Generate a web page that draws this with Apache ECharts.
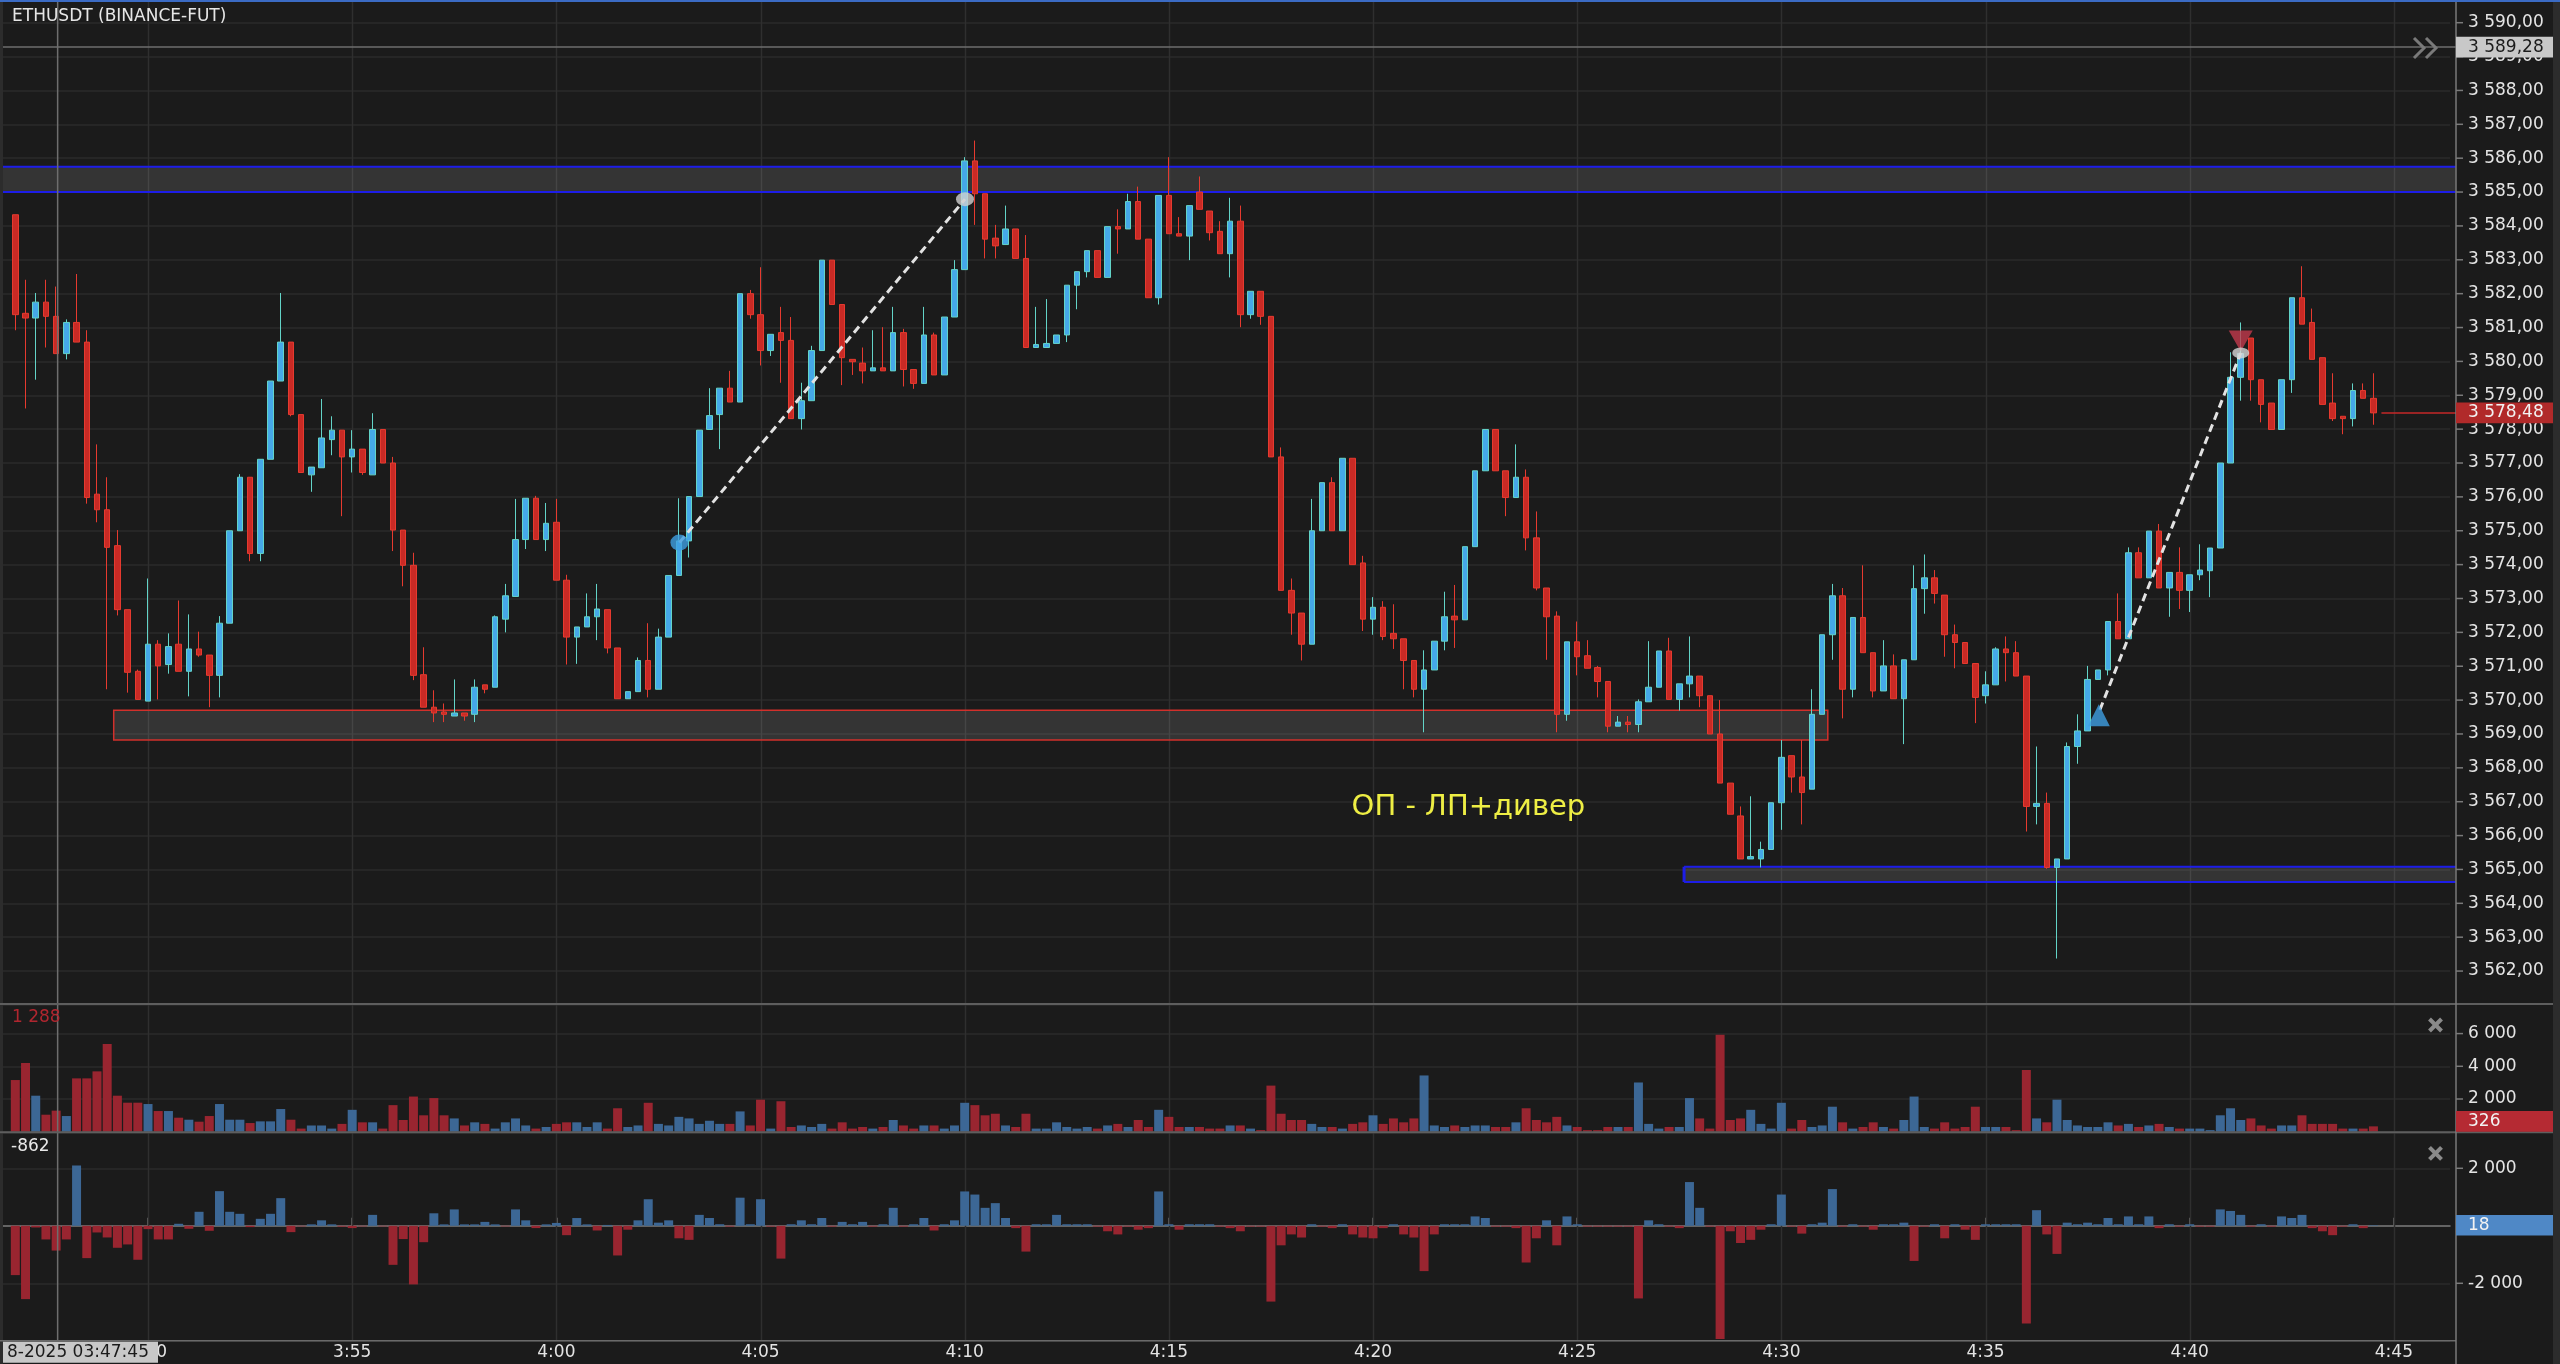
<!DOCTYPE html>
<html>
<head>
<meta charset="utf-8">
<title>ETHUSDT (BINANCE-FUT)</title>
<script src="https://cdn.jsdelivr.net/npm/echarts@6.0.0/dist/echarts.min.js"></script>
<style>
html,body{margin:0;padding:0;background:#1b1b1b;overflow:hidden;}
#chart{width:2560px;height:1364px;}
</style>
</head>
<body>
<div id="chart"></div>
<script>
// ---------------- DATA (15-second candles, first candle 3:46:45) ----------------
const opens = [
3584.33,3581.42,3581.28,3581.75,3581.33,3580.23,3581.15,3580.57,3576.08,3575.62,
3574.56,3572.67,3570.85,3569.97,3571.65,3571.05,3571.65,3570.85,3571.51,3571.33,
3570.73,3572.27,3575.00,3576.58,3574.33,3577.11,3579.42,3580.57,3578.43,3576.65,
3576.86,3577.69,3577.97,3577.18,3577.41,3576.65,3577.99,3577.00,3575.02,3573.98,
3570.75,3569.79,3569.65,3569.53,3569.62,3569.58,3570.45,3570.38,3572.39,3573.06,
3574.74,3575.96,3574.74,3575.25,3573.54,3571.86,3572.16,3572.46,3572.67,3571.54,
3570.04,3570.25,3571.17,3570.32,3571.86,3573.68,3574.70,3576.01,3577.99,3578.43,
3579.21,3578.80,3582.00,3581.38,3580.32,3580.85,3580.62,3578.31,3578.84,3580.32,
3582.99,3581.68,3580.06,3579.95,3579.72,3579.81,3579.72,3580.85,3579.76,3579.35,
3580.78,3579.60,3581.31,3582.71,3585.92,3584.95,3583.64,3583.45,3583.91,3583.04,
3580.41,3580.41,3580.53,3580.78,3582.25,3582.65,3583.27,3582.48,3583.98,3583.91,
3584.72,3583.61,3581.88,3584.90,3583.77,3583.70,3585.00,3584.44,3583.84,3583.18,
3584.14,3581.38,3582.07,3581.33,3577.18,3573.24,3572.57,3571.65,3575.00,3576.42,
3575.00,3577.14,3574.05,3572.39,3572.74,3571.97,3571.81,3571.17,3570.32,3570.89,
3571.74,3572.48,3572.37,3574.53,3576.77,3577.99,3576.77,3575.98,3576.58,3574.79,
3573.31,3572.48,3569.58,3571.72,3571.31,3570.96,3570.55,3569.23,3569.35,3569.28,
3569.95,3570.38,3571.45,3570.02,3570.48,3570.71,3570.13,3569.00,3567.55,3566.58,
3565.31,3565.31,3565.59,3566.97,3568.36,3567.73,3567.37,3569.58,3571.93,3573.08,
3570.32,3572.44,3571.40,3570.27,3571.01,3570.04,3571.19,3573.29,3573.61,3573.10,
3571.93,3571.70,3571.08,3570.13,3570.45,3571.51,3571.40,3570.71,3566.86,3566.95,
3565.06,3565.31,3568.63,3569.09,3570.61,3570.89,3572.32,3571.81,3574.35,3573.61,
3574.99,3573.31,3573.77,3573.24,3573.70,3573.82,3574.49,3577.00,3579.53,3580.69,
3579.46,3578.77,3577.99,3579.46,3581.88,3581.15,3580.11,3578.77,3578.38,3578.31,
3579.14,3578.91];
const closes = [
3581.38,3581.28,3581.75,3581.33,3580.23,3581.15,3580.57,3575.98,3575.62,3574.51,
3572.67,3570.82,3570.02,3571.65,3571.01,3571.58,3570.85,3571.51,3571.33,3570.73,
3572.27,3575.00,3576.58,3574.33,3577.11,3579.42,3580.57,3578.43,3576.72,3576.88,
3577.74,3577.97,3577.18,3577.41,3576.72,3577.99,3577.00,3575.02,3573.98,3570.73,
3569.79,3569.62,3569.58,3569.62,3569.53,3570.38,3570.32,3572.46,3573.08,3574.74,
3575.96,3574.74,3575.22,3573.54,3571.86,3572.16,3572.46,3572.69,3571.54,3570.04,
3570.25,3571.17,3570.32,3571.86,3573.68,3574.70,3576.01,3577.97,3578.40,3579.21,
3578.80,3582.00,3581.38,3580.32,3580.80,3580.62,3578.31,3578.84,3580.32,3582.99,
3581.68,3580.11,3579.99,3579.72,3579.81,3579.72,3580.85,3579.76,3579.35,3580.78,
3579.60,3581.31,3582.71,3585.92,3584.95,3583.61,3583.41,3583.91,3583.04,3580.41,
3580.50,3580.53,3580.78,3582.25,3582.65,3583.27,3582.48,3583.98,3583.91,3584.72,
3583.61,3581.88,3584.90,3583.77,3583.70,3584.60,3584.49,3583.80,3583.18,3584.14,
3581.38,3582.07,3581.33,3577.18,3573.24,3572.57,3571.65,3575.00,3576.42,3575.00,
3577.14,3574.00,3572.39,3572.74,3571.88,3571.81,3571.17,3570.32,3570.89,3571.74,
3572.46,3572.37,3574.53,3576.77,3577.99,3576.77,3575.98,3576.58,3574.79,3573.31,
3572.46,3569.58,3571.72,3571.28,3570.94,3570.55,3569.23,3569.35,3569.28,3569.95,
3570.38,3571.45,3570.02,3570.48,3570.71,3570.13,3569.00,3567.55,3566.63,3565.31,
3565.38,3565.59,3566.97,3568.31,3567.73,3567.27,3569.58,3571.93,3573.08,3570.32,
3572.44,3571.40,3570.27,3571.01,3570.04,3571.19,3573.29,3573.61,3573.15,3571.93,
3571.70,3571.08,3570.08,3570.45,3571.51,3571.40,3570.71,3566.86,3566.95,3565.06,
3565.31,3568.63,3569.09,3570.61,3570.89,3572.32,3571.81,3574.35,3573.61,3574.99,
3573.31,3573.77,3573.24,3573.70,3573.84,3574.49,3577.00,3579.53,3580.23,3579.46,
3578.73,3577.99,3579.46,3581.88,3581.10,3580.06,3578.73,3578.31,3578.31,3579.14,
3578.91,3578.48];
const lows = [
3580.92,3578.61,3579.46,3580.41,3580.23,3580.06,3580.57,3575.80,3575.25,3570.32,
3572.50,3570.22,3570.02,3569.97,3570.02,3570.78,3570.85,3570.11,3571.28,3569.79,
3570.08,3572.27,3575.00,3574.10,3574.10,3577.11,3579.42,3578.38,3576.72,3576.15,
3576.86,3577.23,3575.43,3576.72,3576.65,3576.65,3577.00,3574.40,3573.36,3570.59,
3569.79,3569.35,3569.35,3569.53,3569.39,3569.35,3570.20,3570.38,3572.00,3573.06,
3574.46,3574.74,3574.40,3573.54,3571.05,3571.07,3572.16,3571.77,3571.38,3570.04,
3570.04,3570.25,3570.08,3570.32,3571.86,3573.68,3574.21,3576.01,3577.99,3577.41,
3578.80,3578.80,3581.26,3579.88,3580.16,3579.37,3578.31,3577.99,3578.84,3580.32,
3581.68,3579.30,3579.60,3579.35,3579.72,3579.72,3579.72,3579.26,3579.19,3579.35,
3579.60,3579.60,3581.31,3582.71,3584.03,3583.04,3583.04,3583.45,3583.04,3580.41,
3580.41,3580.41,3580.53,3580.57,3581.54,3582.48,3582.48,3582.48,3583.18,3583.91,
3583.61,3581.88,3581.68,3583.77,3583.70,3582.99,3584.49,3583.57,3583.18,3582.48,
3581.01,3581.26,3581.08,3577.18,3573.24,3571.93,3571.17,3571.65,3575.00,3575.00,
3575.00,3574.00,3572.04,3571.93,3571.77,3571.51,3570.32,3570.08,3569.05,3570.89,
3571.47,3571.54,3572.37,3574.53,3576.77,3576.77,3575.43,3575.98,3574.42,3573.24,
3571.19,3569.05,3569.39,3570.73,3570.94,3570.08,3569.05,3569.23,3569.05,3569.05,
3569.95,3570.38,3570.02,3569.69,3570.08,3569.79,3569.00,3567.55,3566.63,3565.31,
3565.31,3565.06,3565.59,3566.17,3567.27,3566.33,3567.37,3569.58,3571.19,3569.46,
3570.08,3571.40,3570.08,3570.27,3570.04,3568.70,3571.19,3572.55,3572.85,3571.28,
3570.94,3571.08,3569.32,3569.90,3570.45,3570.55,3570.71,3566.12,3566.33,3565.02,
3562.37,3565.31,3568.12,3569.09,3570.61,3570.73,3571.81,3571.81,3573.61,3573.61,
3573.31,3572.46,3572.69,3572.60,3573.54,3573.04,3574.49,3577.00,3578.84,3578.84,
3578.20,3577.99,3577.99,3579.07,3581.10,3580.06,3578.73,3578.24,3577.85,3578.08,
3578.91,3578.13];
const highs = [
3584.33,3582.41,3582.02,3582.41,3582.21,3581.24,3582.58,3580.92,3577.55,3576.58,
3575.02,3572.67,3570.90,3573.59,3571.77,3571.97,3572.94,3572.53,3572.02,3571.33,
3572.48,3575.00,3576.67,3576.58,3577.11,3579.42,3582.02,3580.57,3578.43,3576.88,
3578.89,3578.38,3577.97,3577.97,3577.41,3578.47,3577.99,3577.18,3575.02,3574.35,
3571.56,3570.29,3569.90,3570.61,3569.62,3570.61,3570.45,3572.50,3573.43,3575.94,
3575.96,3576.03,3575.82,3575.94,3573.70,3572.16,3573.15,3573.43,3572.67,3571.54,
3570.25,3571.26,3572.27,3572.11,3573.68,3575.96,3576.01,3577.97,3579.21,3579.21,
3579.72,3582.00,3582.11,3582.78,3580.80,3581.61,3581.31,3579.37,3580.46,3582.99,
3582.99,3581.68,3580.06,3580.41,3580.92,3581.01,3581.61,3580.96,3579.76,3581.61,
3580.85,3581.31,3582.99,3586.03,3586.52,3584.95,3584.03,3584.60,3583.91,3583.73,
3581.61,3581.84,3580.78,3582.25,3582.65,3583.27,3583.27,3583.98,3584.49,3584.95,
3585.16,3583.61,3584.90,3586.03,3584.26,3584.60,3585.46,3584.44,3584.14,3584.83,
3584.60,3582.07,3582.07,3581.33,3577.46,3573.59,3572.57,3575.94,3576.42,3576.58,
3577.14,3577.14,3574.26,3573.04,3572.92,3572.83,3571.81,3571.17,3571.47,3571.74,
3573.20,3573.40,3574.53,3576.77,3577.99,3577.99,3576.77,3577.55,3576.81,3575.57,
3573.31,3572.62,3571.72,3572.32,3571.77,3571.01,3570.55,3569.53,3569.53,3570.02,
3571.74,3571.45,3571.84,3570.48,3571.88,3570.71,3570.13,3570.00,3567.55,3566.86,
3567.16,3565.82,3566.97,3568.82,3568.36,3568.82,3570.32,3571.93,3573.43,3573.31,
3572.44,3573.98,3571.40,3571.77,3571.35,3571.19,3573.98,3574.30,3573.84,3573.10,
3572.23,3571.70,3571.08,3570.85,3571.56,3571.88,3571.74,3570.71,3568.63,3567.27,
3565.31,3568.75,3569.58,3571.01,3570.89,3572.32,3573.15,3574.51,3574.51,3574.99,
3575.20,3573.77,3574.51,3573.70,3574.60,3574.49,3577.00,3580.27,3581.15,3580.69,
3579.46,3578.77,3579.46,3581.88,3582.81,3581.56,3580.11,3579.65,3578.38,3579.35,
3579.35,3579.65];
const volumes = [
3160,4200,2202,1040,1288,958,3262,3262,3690,5363,
2202,1774,1774,1692,1264,1264,856,734,612,958,
1692,734,734,530,632,632,1386,734,190,380,
380,190,478,1338,573,573,190,1625,717,2150,
1003,2055,1003,812,382,573,478,190,573,812,
382,190,287,478,573,573,287,573,190,1433,
287,382,1768,478,382,908,812,478,669,478,
478,1242,382,1959,190,1863,287,382,287,478,
190,573,190,287,190,287,717,382,190,382,
382,190,382,1768,1625,1003,1099,382,287,1099,
190,190,573,287,190,287,190,382,478,287,
717,287,1338,908,287,287,287,190,190,382,
382,190,96,2819,1099,717,717,478,287,287,
190,478,573,1003,478,812,573,812,3440,382,
287,382,287,382,382,287,287,573,1433,717,
573,908,382,287,96,96,287,287,287,3010,
478,190,287,287,2055,812,190,5925,717,812,
1338,478,190,1768,190,717,287,382,1529,573,
190,287,573,287,190,717,2150,287,190,573,
190,287,1529,287,287,287,96,3775,812,573,
1959,717,382,287,287,573,382,478,287,382,
478,287,190,190,190,96,1003,1433,717,812,
382,190,382,382,1003,478,478,478,190,190,
190,326];
const deltas = [
-1715,-2550,-58,-475,-862,-475,2098,-1124,-232,-406,
-765,-649,-1182,-116,-475,-475,70,-104,487,-174,
1205,487,417,-46,243,417,962,-220,-20,50,
190,50,-30,-80,-20,380,-20,-1358,-462,-2038,
-570,435,50,570,50,50,136,50,-20,570,
190,-80,50,100,-326,270,50,-163,30,-1032,
-136,190,924,109,190,-435,-489,380,272,54,
-27,978,54,924,-27,-1141,54,190,54,272,
-27,136,54,136,-27,54,625,-27,54,272,
-163,54,190,1195,1087,625,788,272,-82,-897,
54,54,380,54,54,54,-27,-190,-300,-27,
-136,-82,1195,54,-136,54,54,54,-27,-82,
-190,-27,-27,-2636,-679,-300,-408,54,-27,-82,
54,-300,-408,-435,-82,54,-300,-408,-1576,-300,
54,54,54,326,272,-27,-27,-82,-1277,-435,
190,-679,326,54,-27,-27,-27,-27,-27,-2527,
190,54,-27,-82,1521,625,-27,-3940,-190,-598,
-489,-136,54,1087,-27,-272,54,109,1277,-27,
54,-27,-136,54,54,109,-1223,-27,54,-435,
54,-136,-489,54,54,54,54,-3396,543,-300,
-978,109,54,109,54,272,54,326,54,326,
-82,54,-27,54,-27,-27,570,516,380,-27,
54,-27,326,272,380,-82,-190,-326,-27,54,
-82,18];
const tickLabels = ['3:50','3:55','4:00','4:05','4:10','4:15','4:20','4:25','4:30','4:35','4:40','4:45'];

// levels / annotations in (candle index, price) units
const zones = [
  [-0.5, 240.07, 3585.00, 3585.75],
  [10.64, 178.55, 3568.82, 3569.70],
  [164.47, 240.07, 3564.63, 3565.08]
];
const zoneKinds = ['blue', 'red', 'blue'];
const trendA = [[66.05, 3574.65], [94.03, 3584.79]];
const trendB = [[205.2, 3569.71], [219.0, 3580.25]];
const noteText = 'ОП - ЛП+дивер';
const notePos = [131.9, 3566.84];
const lastPrice = 3578.48;
const cursorPrice = 3589.28;
const cursorIndex = 5;
const cursorTime = '8-2025 03:47:45';
const cursorVolume = 1288;
const cursorDelta = -862;
const lastVolume = 326;
const lastDelta = 18;

// ---------------- STYLE ----------------
const FONT = 'DejaVu Sans';
const BG = '#1b1b1b', GRIDC = '#2b2b2b', AXIS = '#7a7a7a', TXT = '#e4e4e4';
const UP_FILL = '#45a8e8', UP_LINE = '#63d4c8', DN_FILL = '#c92a25', DN_LINE = '#e63a2f';
const BAR_RED = '#992530', BAR_BLUE = '#3c6795';

function fmtNum(v, dec) {
  const s = Math.abs(v).toFixed(dec);
  const parts = s.split('.');
  const ip = parts[0].replace(/\B(?=(\d{3})+(?!\d))/g, ' ');
  return (v < 0 ? '-' : '') + ip + (parts[1] ? ',' + parts[1] : '');
}

const startSec = 3 * 3600 + 46 * 60 + 30;
const N = 240;
const FIRST = 1;
const categories = [];
for (let i = 0; i < N; i++) {
  const s = startSec + 15 * i;
  const h = Math.floor(s / 3600), m = Math.floor((s % 3600) / 60), sec = s % 60;
  categories.push(h + ':' + String(m).padStart(2, '0') + ':' + String(sec).padStart(2, '0'));
}
function isTick(i) {
  const lab = categories[i] ? categories[i].slice(0, -3) : '';
  return !!categories[i] && categories[i].endsWith(':00') && tickLabels.indexOf(lab) >= 0;
}

const candleData = [], volData = [], deltaData = [];
for (let i = 0; i < N; i++) {
  const k = i - FIRST;
  if (k >= 0 && k < opens.length) {
    candleData.push([opens[k], closes[k], lows[k], highs[k]]);
    const up = closes[k] >= opens[k];
    volData.push({ value: volumes[k], itemStyle: { color: up ? BAR_BLUE : BAR_RED } });
    deltaData.push({ value: deltas[k], itemStyle: { color: deltas[k] >= 0 ? BAR_BLUE : BAR_RED } });
  } else {
    candleData.push(['-', '-', '-', '-']);
    volData.push('-');
    deltaData.push('-');
  }
}

const chart = echarts.init(document.getElementById('chart'), null, { renderer: 'canvas', width: 2560, height: 1364 });

const hiddenCat = (g) => ({
  type: 'category', gridIndex: g, data: categories, boundaryGap: true,
  axisLine: { show: false }, axisTick: { show: false }, axisLabel: { show: false }, splitLine: { show: false }
});
const rightAxis = (g, extra) => Object.assign({
  type: 'value', gridIndex: g, position: 'right', offset: 6,
  axisLine: { show: false },
  axisTick: { show: false },
  minorTick: { show: false },
  splitLine: { show: true, lineStyle: { color: GRIDC, width: 1.5 } }
}, extra);

const option = {
  backgroundColor: BG,
  animation: false,
  textStyle: { fontFamily: FONT },
  grid: [
    { left: 0, right: 110, top: -11.17, height: 1016.1, containLabel: false, outerBoundsMode: 'none' },
    { left: 0, right: 110, top: 1004, height: 127.7, containLabel: false, outerBoundsMode: 'none' },
    { left: 0, right: 110, top: 1132.3, height: 208.5, containLabel: false, outerBoundsMode: 'none' }
  ],
  xAxis: [
    hiddenCat(0),
    hiddenCat(1),
    {
      type: 'category', gridIndex: 2, data: categories, boundaryGap: true,
      axisLine: { show: true, lineStyle: { color: AXIS, width: 1.5 } },
      axisTick: { show: true, inside: true, length: 8, alignWithLabel: true, interval: (i) => isTick(i), lineStyle: { color: AXIS, width: 1.5 } },
      axisLabel: { show: true, interval: (i) => isTick(i), formatter: (v) => v.slice(0, -3), color: TXT, fontSize: 17, fontFamily: FONT, margin: 3, hideOverlap: false },
      splitLine: { show: false }
    },
    { type: 'value', gridIndex: 0, min: -0.5, max: N - 0.5, show: false }
  ],
  yAxis: [
    rightAxis(0, {
      min: 3561, max: 3591, interval: 1,
      axisLabel: { color: TXT, fontSize: 17, fontFamily: FONT, margin: 12, showMinLabel: false, showMaxLabel: false,
        formatter: (v) => (v > 3561 && v < 3591) ? fmtNum(v, 2) : '' }
    }),
    rightAxis(1, {
      min: 0, max: 7810, interval: 2000,
      axisLabel: { color: TXT, fontSize: 17, fontFamily: FONT, margin: 12,
        formatter: (v) => (v > 0 && v % 2000 === 0) ? fmtNum(v, 0) : '' }
    }),
    rightAxis(2, {
      min: -4000, max: 3252, interval: 2000,
      axisLabel: { color: TXT, fontSize: 17, fontFamily: FONT, margin: 12,
        formatter: (v) => (v !== 0 && v > -4000 && v % 2000 === 0) ? fmtNum(v, 0) : '' }
    })
  ],
  series: [
    {
      type: 'custom', xAxisIndex: 3, yAxisIndex: 0, data: zones, encode: { x: [0, 1], y: [2, 3] },
      clip: false, silent: true, z: 2,
      renderItem: function (params, api) {
        const kind = zoneKinds[params.dataIndex];
        const a = api.coord([api.value(0), api.value(3)]);
        const b = api.coord([api.value(1), api.value(2)]);
        const x = a[0], y = a[1], w = b[0] - a[0], h = b[1] - a[1];
        const ch = [{ type: 'rect', shape: { x: x, y: y, width: w, height: h }, style: { fill: 'rgba(255,255,255,0.11)' } }];
        if (kind === 'red') {
          ch.push({ type: 'rect', shape: { x: x, y: y, width: w, height: h }, style: { fill: null, stroke: '#d1302b', lineWidth: 1.5 } });
        } else {
          const st = { stroke: '#1d1de8', lineWidth: 2 };
          ch.push({ type: 'line', shape: { x1: x, y1: y, x2: x + w, y2: y }, style: st });
          ch.push({ type: 'line', shape: { x1: x, y1: y + h, x2: x + w, y2: y + h }, style: st });
          if (x > 5) ch.push({ type: 'line', shape: { x1: x, y1: y, x2: x, y2: y + h }, style: { stroke: '#1d1de8', lineWidth: 3 } });
        }
        return { type: 'group', children: ch };
      }
    },
    {
      type: 'candlestick', xAxisIndex: 0, yAxisIndex: 0, data: candleData, barWidth: 6, z: 3,
      itemStyle: { color: UP_FILL, color0: DN_FILL, borderColor: UP_LINE, borderColor0: DN_LINE, borderWidth: 1 }
    },
    { type: 'bar', xAxisIndex: 1, yAxisIndex: 1, data: volData, barCategoryGap: '12%', z: 3, silent: true },
    { type: 'bar', xAxisIndex: 2, yAxisIndex: 2, data: deltaData, barCategoryGap: '12%', z: 3, silent: true },
    {
      type: 'line', xAxisIndex: 3, yAxisIndex: 0, data: trendA, symbol: 'none', silent: true, z: 5,
      lineStyle: { color: '#e2e2e2', width: 3, type: [8, 5] }
    },
    {
      type: 'line', xAxisIndex: 3, yAxisIndex: 0, data: trendB, symbol: 'none', silent: true, z: 5,
      lineStyle: { color: '#e2e2e2', width: 3, type: [8, 5] }
    },
    {
      type: 'scatter', xAxisIndex: 3, yAxisIndex: 0, silent: true, z: 6,
      data: [
        { value: trendA[0], symbol: 'circle', symbolSize: [18, 16], itemStyle: { color: '#3f9fe2' } },
        { value: trendA[1], symbol: 'circle', symbolSize: [18, 14], itemStyle: { color: '#cfcfcf' } },
        { value: [205.1, 3569.55], symbol: 'triangle', symbolSize: [22, 22], itemStyle: { color: '#3f9fe2' } },
        { value: [219.0, 3580.6], symbol: 'triangle', symbolRotate: 180, symbolSize: [24, 21], itemStyle: { color: '#c23a4c' } },
        { value: trendB[1], symbol: 'circle', symbolSize: [17, 11], itemStyle: { color: '#d6d6d6' } }
      ]
    }
  ]
};
chart.setOption(option);

// ---------- decorations positioned through the chart's own scales ----------
const px = (v) => chart.convertToPixel({ xAxisIndex: 3 }, v);
const py = (a, v) => chart.convertToPixel({ yAxisIndex: a }, v);
const AX = 2456, RIGHT = 2553, PANE_BOTTOM = py(2, -4000);
const g = [];
// vertical grid lines at time ticks
for (let i = 0; i < N; i++) {
  if (isTick(i)) {
    const x = Math.round(px(i)) + 0.5;
    g.push({ type: 'line', z: 1, silent: true, shape: { x1: x, y1: 2, x2: x, y2: PANE_BOTTOM }, style: { stroke: '#2f2f2f', lineWidth: 1.5 } });
  }
}
// axis ticks on the price / volume / delta scales
function tick(y) {
  g.push({ type: 'line', z: 50, silent: true, shape: { x1: AX, y1: y, x2: AX + 7, y2: y }, style: { stroke: AXIS, lineWidth: 1.5 } });
}
for (let p = 3562; p <= 3590; p++) tick(py(0, p));
[2000, 4000, 6000].forEach((v) => tick(py(1, v)));
[2000, -2000].forEach((v) => tick(py(2, v)));
// frame
g.push({ type: 'rect', z: 50, silent: true, shape: { x: 0, y: 0, width: 2560, height: 2 }, style: { fill: '#3b6bc4' } });
g.push({ type: 'rect', z: 50, silent: true, shape: { x: 0, y: 2, width: 3, height: 1362 }, style: { fill: '#2c2c2c' } });
g.push({ type: 'rect', z: 50, silent: true, shape: { x: RIGHT, y: 2, width: 7, height: 1362 }, style: { fill: '#2c2c2c' } });
const sep1 = py(1, 7810), sep2 = py(2, 3252);
g.push({ type: 'line', z: 50, silent: true, shape: { x1: 0, y1: sep1, x2: RIGHT, y2: sep1 }, style: { stroke: '#5e5e5e', lineWidth: 2 } });
g.push({ type: 'line', z: 50, silent: true, shape: { x1: 0, y1: sep2, x2: RIGHT, y2: sep2 }, style: { stroke: '#5e5e5e', lineWidth: 2 } });
g.push({ type: 'line', z: 50, silent: true, shape: { x1: 0, y1: PANE_BOTTOM, x2: AX, y2: PANE_BOTTOM }, style: { stroke: '#6a6a6a', lineWidth: 1.5 } });
g.push({ type: 'line', z: 50, silent: true, shape: { x1: AX, y1: 2, x2: AX, y2: 1364 }, style: { stroke: AXIS, lineWidth: 1.5 } });
// title
g.push({ type: 'text', z: 60, silent: true, x: 12, y: 17, style: { text: 'ETHUSDT (BINANCE-FUT)', fill: '#e6e6e6', font: '17px "DejaVu Sans"', align: 'left', verticalAlign: 'middle' } });
// last price line
const yLast = py(0, lastPrice);
g.push({ type: 'line', z: 40, silent: true, shape: { x1: px(232) + 8, y1: yLast, x2: AX, y2: yLast }, style: { stroke: '#c62828', lineWidth: 1.5 } });
// crosshair
const cx = px(cursorIndex) + 1.5, cy = py(0, cursorPrice);
g.push({ type: 'line', z: 45, silent: true, shape: { x1: cx, y1: 2, x2: cx, y2: PANE_BOTTOM }, style: { stroke: '#6e6e6e', lineWidth: 1.5 } });
g.push({ type: 'line', z: 45, silent: true, shape: { x1: 0, y1: cy, x2: AX, y2: cy }, style: { stroke: '#6e6e6e', lineWidth: 1.5 } });
// >> button
g.push({ type: 'polyline', z: 60, silent: true, shape: { points: [[2414, 38], [2424, 48], [2414, 58]] }, style: { stroke: '#7a7a7a', lineWidth: 3, fill: null } });
g.push({ type: 'polyline', z: 60, silent: true, shape: { points: [[2426, 38], [2436, 48], [2426, 58]] }, style: { stroke: '#7a7a7a', lineWidth: 3, fill: null } });
// close crosses
function cross(cxx, cyy) {
  g.push({ type: 'line', z: 60, silent: true, shape: { x1: cxx - 6, y1: cyy - 6, x2: cxx + 6, y2: cyy + 6 }, style: { stroke: '#8a8a8a', lineWidth: 4 } });
  g.push({ type: 'line', z: 60, silent: true, shape: { x1: cxx - 6, y1: cyy + 6, x2: cxx + 6, y2: cyy - 6 }, style: { stroke: '#8a8a8a', lineWidth: 4 } });
}
cross(2435.5, sep1 + 21);
cross(2435.5, sep2 + 21);
// axis value boxes
function axisBox(yc, text, bg, fg) {
  g.push({ type: 'rect', z: 70, silent: true, shape: { x: AX, y: yc - 10.3, width: RIGHT - AX, height: 20.6 }, style: { fill: bg } });
  g.push({ type: 'text', z: 71, silent: true, x: AX + 12, y: yc, style: { text: text, fill: fg, font: '17px "DejaVu Sans"', align: 'left', verticalAlign: 'middle' } });
}
axisBox(cy, fmtNum(cursorPrice, 2), '#c8c8c8', '#1b1b1b');
axisBox(yLast, fmtNum(lastPrice, 2), '#b12a2a', '#f2f2f2');
axisBox(Math.min(py(1, lastVolume), py(1, 0) - 10.3), fmtNum(lastVolume, 0), '#b52a33', '#f2f2f2');
axisBox(py(2, lastDelta), fmtNum(lastDelta, 0), '#4f88c6', '#f2f2f2');
// pane cursor values
g.push({ type: 'text', z: 60, silent: true, x: 12, y: sep1 + 14, style: { text: fmtNum(cursorVolume, 0), fill: '#b0262f', font: '17px "DejaVu Sans"', align: 'left', verticalAlign: 'middle' } });
g.push({ type: 'text', z: 60, silent: true, x: 11, y: sep2 + 14, style: { text: fmtNum(cursorDelta, 0), fill: '#e8e8e8', font: '17px "DejaVu Sans"', align: 'left', verticalAlign: 'middle' } });
// time cursor box
g.push({ type: 'rect', z: 70, silent: true, shape: { x: 3, y: PANE_BOTTOM + 1, width: 155, height: 21 }, style: { fill: '#c8c8c8' } });
g.push({ type: 'text', z: 71, silent: true, x: 7, y: PANE_BOTTOM + 11.5, style: { text: cursorTime, fill: '#1b1b1b', font: '17px "DejaVu Sans"', align: 'left', verticalAlign: 'middle' } });
// annotation
g.push({ type: 'text', z: 60, silent: true, x: px(notePos[0]), y: py(0, notePos[1]), style: { text: noteText, fill: '#eeee44', font: '29px "DejaVu Sans"', align: 'left', verticalAlign: 'middle' } });

chart.setOption({ graphic: { elements: g } });
</script>
</body>
</html>
